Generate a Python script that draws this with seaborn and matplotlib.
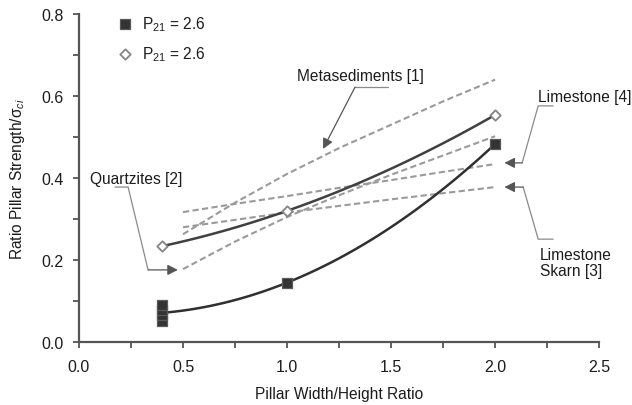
import numpy as np
import pandas as pd
import matplotlib
matplotlib.use("Agg")
import matplotlib.pyplot as plt
import seaborn as sns

# Pillar strength measurements (width/height ratio vs. normalised strength)
sq_ratio = [0.4, 0.4, 0.4, 0.4, 1.0, 2.0]
sq_strength = [0.052, 0.065, 0.078, 0.090, 0.145, 0.483]
dm_ratio = [0.4, 1.0, 2.0]
dm_strength = [0.234, 0.320, 0.554]
series_label = "P$_{21}$ = 2.6"

# Empirical pillar strength relations from the literature
emp_ratio = [0.5, 0.75, 1.0, 1.25, 1.5, 1.75, 2.0]
metasediments = [0.263, 0.340, 0.410, 0.473, 0.530, 0.587, 0.640]
quartzites = [0.178, 0.245, 0.305, 0.358, 0.408, 0.455, 0.502]
limestone = [0.317, 0.337, 0.356, 0.376, 0.395, 0.415, 0.434]
limestone_skarn = [0.280, 0.298, 0.316, 0.332, 0.348, 0.363, 0.378]

x_ticks = [0.0, 0.5, 1.0, 1.5, 2.0, 2.5]
y_ticks = [0.0, 0.2, 0.4, 0.6, 0.8]

sns.set_style("ticks")
plt.rcParams["font.family"] = ["Liberation Sans", "DejaVu Sans"]
plt.rcParams["mathtext.fontset"] = "custom"
plt.rcParams["mathtext.rm"] = "Liberation Sans"
plt.rcParams["mathtext.it"] = "Liberation Sans:italic"
plt.rcParams["font.size"] = 11.2
TXT = "#1c1c1c"

fig = plt.figure(figsize=(6.32, 4.06), dpi=100)
ax = fig.add_axes([0.125, 0.155, 0.823, 0.808])

dash_kw = dict(color="#9a9a9a", lw=1.5, linestyle=(0, (3.0, 1.6)))
emp = pd.DataFrame({"ratio": emp_ratio, "meta": metasediments, "quartz": quartzites,
                    "lime": limestone, "skarn": limestone_skarn})
for col in ["meta", "quartz", "lime", "skarn"]:
    sns.lineplot(data=emp, x="ratio", y=col, ax=ax, **dash_kw)

# Second-order fits through each data set
sns.regplot(x=sq_ratio, y=sq_strength, order=2, ci=None, scatter=False, ax=ax,
            line_kws=dict(color="#303030", lw=1.8))
sns.regplot(x=dm_ratio, y=dm_strength, order=2, ci=None, scatter=False, ax=ax,
            line_kws=dict(color="#404040", lw=1.8))

sns.scatterplot(x=sq_ratio, y=sq_strength, marker="s", s=44, color="#333333",
                edgecolor="#5a5a5a", linewidth=0.9, ax=ax, zorder=5, label=series_label)
sns.scatterplot(x=dm_ratio, y=dm_strength, marker="D", s=28, facecolor="white",
                edgecolor="#858585", linewidth=1.3, ax=ax, zorder=5, label=series_label)

# Leader lines with arrowheads pointing at each relation
lead_kw = dict(color="#8a8a8a", lw=0.9)
arrow_kw = dict(arrowstyle="-|>,head_length=0.55,head_width=0.28", color="#555555",
                lw=0.9, shrinkA=0, shrinkB=0)

def leader(points, tip):
    xs, ys = zip(*points)
    ax.plot(xs, ys, **lead_kw)
    ax.annotate("", xy=tip, xytext=points[-1], arrowprops=arrow_kw)

leader([(1.486, 0.622), (1.327, 0.622)], (1.173, 0.471))
ax.text(1.048, 0.649, "Metasediments [1]", ha="left", va="center", color=TXT)

leader([(2.279, 0.576), (2.207, 0.576), (2.130, 0.437)], (2.045, 0.437))
ax.text(2.207, 0.598, "Limestone [4]", ha="left", va="center", color=TXT)

leader([(2.279, 0.251), (2.207, 0.251), (2.135, 0.378)], (2.045, 0.378))
ax.text(2.216, 0.194, "Limestone\nSkarn [3]", ha="left", va="center", color=TXT,
        linespacing=1.05)

leader([(0.173, 0.378), (0.236, 0.378), (0.332, 0.176)], (0.475, 0.176))
ax.text(0.053, 0.398, "Quartzites [2]", ha="left", va="center", color=TXT)

ax.set_xlim(0, 2.5)
ax.set_ylim(0, 0.8)
ax.set_xticks(x_ticks)
ax.set_yticks(y_ticks)
ax.set_xticklabels([f"{v:.1f}" for v in x_ticks])
ax.set_yticklabels([f"{v:.1f}" for v in y_ticks])
ax.set_xticks(np.arange(0, 2.51, 0.25), minor=True)
ax.set_yticks(np.arange(0, 0.81, 0.1), minor=True)
ax.tick_params(axis="both", which="both", direction="out", length=4, width=1.3,
               color="#555555", labelcolor=TXT, labelsize=11.5)
ax.tick_params(axis="x", pad=8)
ax.tick_params(axis="y", pad=7)
for side in ["left", "bottom"]:
    ax.spines[side].set_color("#555555")
    ax.spines[side].set_linewidth(1.6)
sns.despine(ax=ax)

ax.set_xlabel("Pillar Width/Height Ratio", color=TXT, labelpad=9)
ax.set_ylabel("Ratio Pillar Strength/σ$_{ci}$", color=TXT, labelpad=10)

ax.legend(loc="upper left", bbox_to_anchor=(0.059, 1.023), frameon=False,
          borderpad=0, handlelength=1.0, handletextpad=0.6, labelspacing=0.72,
          fontsize=11.2, labelcolor=TXT)

fig.savefig("out.png", dpi=100)
